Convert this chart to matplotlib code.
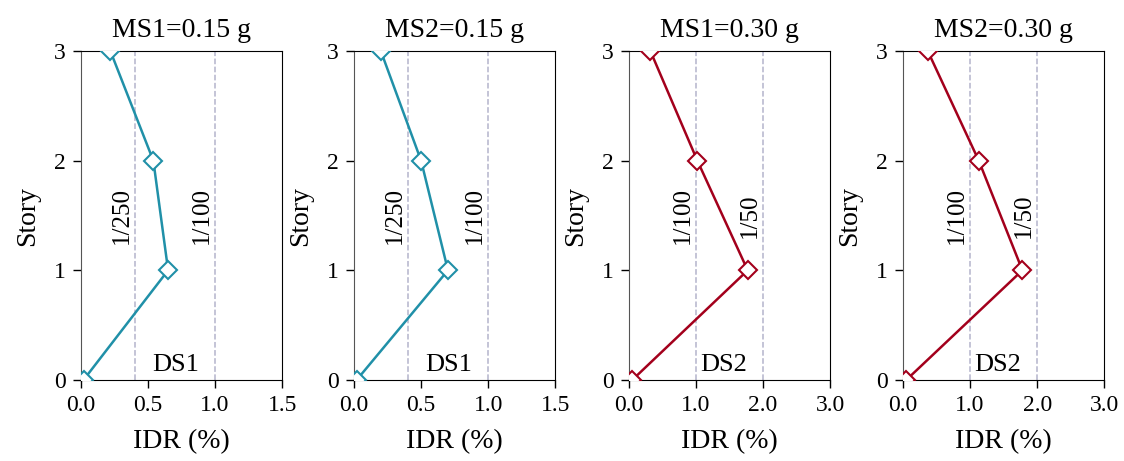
import numpy as np
import matplotlib
matplotlib.use('Agg')
import matplotlib.pyplot as plt

plt.rcParams['font.family'] = ['Liberation Serif', 'DejaVu Serif']

# ====================== DADOS ======================
stories = [0, 1, 2, 3]
titles = ['MS1=0.15 g', 'MS2=0.15 g', 'MS1=0.30 g', 'MS2=0.30 g']
idr_ms1_015 = [0.02, 0.65, 0.54, 0.22]
idr_ms2_015 = [0.02, 0.70, 0.50, 0.20]
idr_ms1_030 = [0.05, 1.77, 1.02, 0.32]
idr_ms2_030 = [0.05, 1.78, 1.13, 0.37]
series = [idr_ms1_015, idr_ms2_015, idr_ms1_030, idr_ms2_030]

xmax = [1.5, 1.5, 3.0, 3.0]
xticks = [[0.0, 0.5, 1.0, 1.5], [0.0, 0.5, 1.0, 1.5],
          [0.0, 1.0, 2.0, 3.0], [0.0, 1.0, 2.0, 3.0]]
limits = [[0.4, 1.0], [0.4, 1.0], [1.0, 2.0], [1.0, 2.0]]
limit_labels = [['1/250', '1/100'], ['1/250', '1/100'],
                ['1/100', '1/50'], ['1/100', '1/50']]
ds_labels = ['DS1', 'DS1', 'DS2', 'DS2']
colors = ['#2090a8', '#2090a8', '#a3001c', '#a3001c']

# ====================== FIGURA ======================
fig = plt.figure(figsize=(11.24, 4.61), dpi=100)
lefts = [0.072, 0.315, 0.5596, 0.8034]

for k in range(4):
    ax = fig.add_axes([lefts[k], 0.176, 0.179, 0.713])
    ax.plot(series[k], stories, color=colors[k], lw=1.8, marker='D',
            markersize=9, markerfacecolor='white', markeredgecolor=colors[k],
            markeredgewidth=1.5, zorder=3)

    # linhas de limite (dashed)
    for xv, lab in zip(limits[k], limit_labels[k]):
        ax.axvline(xv, color='#b4b4cc', ls='--', lw=1.1, zorder=1)
        ax.text(xv - 0.01 * xmax[k], 1.5, lab, rotation=90, ha='right',
                va='center', fontsize=18)

    ax.text(0.47, 0.012, ds_labels[k], transform=ax.transAxes,
            ha='center', va='bottom', fontsize=19)

    ax.set_xlim(0, xmax[k])
    ax.set_ylim(0, 3)
    ax.set_xticks(xticks[k])
    ax.set_xticklabels([f'{v:.1f}' for v in xticks[k]])
    ax.set_yticks(stories)
    ax.tick_params(direction='out', length=6, width=1, labelsize=17,
                   pad=5, top=False, right=False)
    ax.spines['left'].set_color('#555555')
    ax.set_xlabel('IDR (%)', fontsize=20, labelpad=9)
    ax.set_ylabel('Story', fontsize=20, labelpad=10)
    ax.set_title(titles[k], fontsize=20, pad=10)

fig.savefig('out.png', dpi=100)
